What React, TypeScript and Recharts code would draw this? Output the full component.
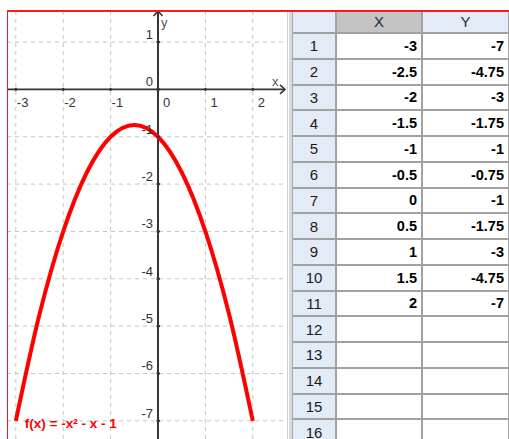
import React from 'react';
import { LineChart, Line, XAxis, YAxis, ReferenceLine, ReferenceDot } from 'recharts';

// Value table for f(x) = -x² - x - 1
const xValues = [-3, -2.5, -2, -1.5, -1, -0.5, 0, 0.5, 1, 1.5, 2];
const yValues = [-7, -4.75, -3, -1.75, -1, -0.75, -1, -1.75, -3, -4.75, -7];
const rowNumbers = [1, 2, 3, 4, 5, 6, 7, 8, 9, 10, 11, 12, 13, 14, 15, 16];
const columnHeaders = ['X', 'Y'];

// Axis ticks of the graphics view
const xTicks = [-3, -2, -1, 0, 1, 2];
const yTicks = [1, 0, -1, -2, -3, -4, -5, -6, -7];
const functionLabel = 'f(x) = -x² - x - 1';
const axisNames = { x: 'x', y: 'y' };

const points = xValues.map((x, i) => ({ x, y: yValues[i] }));

// Visible window of the graphics view
const X_DOMAIN: [number, number] = [-3.186, 2.743];
const Y_DOMAIN: [number, number] = [-7.384, 1.677];

const FONT = '"Liberation Sans", Arial, sans-serif';
const AXIS_COLOR = '#353535';
const GRID_COLOR = '#c4c4c4';
const CURVE_COLOR = '#ff0000';
const TICK_TEXT = '#333';

const XAxisShape = (p: any) => {
  const left = Math.min(p.x1, p.x2);
  const right = Math.max(p.x1, p.x2);
  const y = p.y1;
  const tip = right - 3;
  return (
    <g>
      <line x1={left} y1={y} x2={tip} y2={y} stroke={AXIS_COLOR} strokeWidth={1.6} />
      <polyline points={`${tip - 5},${y - 4.5} ${tip},${y} ${tip - 5},${y + 4.5}`} fill="none" stroke={AXIS_COLOR} strokeWidth={1.6} />
    </g>
  );
};

const YAxisShape = (p: any) => {
  const top = Math.min(p.y1, p.y2);
  const bottom = Math.max(p.y1, p.y2);
  const x = p.x1;
  const tip = top + 1;
  return (
    <g>
      <line x1={x} y1={tip} x2={x} y2={bottom} stroke={AXIS_COLOR} strokeWidth={2} />
      <polyline points={`${x - 4.5},${tip + 5} ${x},${tip} ${x + 4.5},${tip + 5}`} fill="none" stroke={AXIS_COLOR} strokeWidth={1.6} />
    </g>
  );
};

const xTickShape = (value: number) => (p: any) => (
  <g>
    <line x1={p.cx} y1={p.cy - 1.5} x2={p.cx} y2={p.cy + 1.5} stroke={AXIS_COLOR} strokeWidth={2} />
    <text x={p.cx + (value < 0 ? 1 : 5)} y={p.cy + 18} fontSize={13} fontFamily={FONT} fill={TICK_TEXT}>
      {String(value)}
    </text>
  </g>
);

const yTickShape = (value: number) => (p: any) => (
  <g>
    <line x1={p.cx - 1.5} y1={p.cy} x2={p.cx + 2} y2={p.cy} stroke={AXIS_COLOR} strokeWidth={2} />
    <text x={p.cx - 5} y={p.cy - 3} fontSize={13} fontFamily={FONT} fill={TICK_TEXT} textAnchor="end">
      {String(value)}
    </text>
  </g>
);

const functionLabelShape = (p: any) => (
  <text x={p.cx + 9} y={p.cy + 7} fontSize={13.5} fontWeight="bold" fontFamily={FONT} fill={CURVE_COLOR}>
    {functionLabel}
  </text>
);

const xNameShape = (p: any) => (
  <text x={p.cx - 16} y={p.cy - 3} fontSize={13} fontFamily={FONT} fill="#555">{axisNames.x}</text>
);
const yNameShape = (p: any) => (
  <text x={p.cx + 3} y={p.cy + 17} fontSize={13} fontFamily={FONT} fill="#555">{axisNames.y}</text>
);

const Graph = () => (
  <LineChart
    width={281}
    height={429}
    data={points}
    margin={{ top: 0, right: 0, bottom: 0, left: 0 }}
  >
    <XAxis type="number" dataKey="x" domain={X_DOMAIN} allowDataOverflow hide />
    <YAxis type="number" domain={Y_DOMAIN} allowDataOverflow hide width={0} />
    {xTicks.filter((t) => t !== 0).map((t) => (
      <ReferenceLine key={`gx${t}`} x={t} stroke={GRID_COLOR} strokeDasharray="4 4" strokeWidth={1} />
    ))}
    {yTicks.filter((t) => t !== 0).map((t) => (
      <ReferenceLine key={`gy${t}`} y={t} stroke={GRID_COLOR} strokeDasharray="4 4" strokeWidth={1} />
    ))}
    <ReferenceLine y={0} shape={XAxisShape} />
    <ReferenceLine x={0} shape={YAxisShape} />
    {xTicks.map((t) => (
      <ReferenceDot key={`tx${t}`} x={t} y={0} r={1} ifOverflow="visible" shape={xTickShape(t)} />
    ))}
    {yTicks.map((t) => (
      <ReferenceDot key={`ty${t}`} x={0} y={t} r={1} ifOverflow="visible" shape={yTickShape(t)} />
    ))}
    <ReferenceDot x={X_DOMAIN[1]} y={0} r={1} ifOverflow="visible" shape={xNameShape} />
    <ReferenceDot x={0} y={Y_DOMAIN[1]} r={1} ifOverflow="visible" shape={yNameShape} />
    <Line
      type="monotone"
      dataKey="y"
      stroke={CURVE_COLOR}
      strokeWidth={4}
      dot={false}
      activeDot={false}
      isAnimationActive={false}
    />
    <ReferenceDot x={xValues[0]} y={yValues[0]} r={1} ifOverflow="visible" shape={functionLabelShape} />
  </LineChart>
);

// Spreadsheet geometry
const HEADER_TOP = 11;
const ROW_TOP = 34;
const ROW_H = 25.75;
const COLS = [
  { left: 293, width: 44 },
  { left: 337, width: 86 },
  { left: 423, width: 87 },
];
const LINE = '2px solid #a2a2a2';
const HEAD_BLUE = '#e3ebf6';

const cellBase: React.CSSProperties = {
  position: 'absolute',
  boxSizing: 'border-box',
  borderRight: LINE,
  borderBottom: LINE,
  fontFamily: FONT,
  fontSize: 14.5,
  display: 'flex',
  alignItems: 'center',
  overflow: 'hidden',
};

const Spreadsheet = () => {
  const cells: React.ReactNode[] = [];
  // column header row
  cells.push(
    <div key="corner" style={{ ...cellBase, left: COLS[0].left, top: HEADER_TOP, width: COLS[0].width, height: ROW_TOP - HEADER_TOP, background: HEAD_BLUE }} />
  );
  columnHeaders.forEach((h, c) => {
    cells.push(
      <div
        key={`h${h}`}
        style={{
          ...cellBase,
          left: COLS[c + 1].left,
          top: HEADER_TOP,
          width: COLS[c + 1].width,
          height: ROW_TOP - HEADER_TOP,
          background: c === 0 ? '#c4c4c4' : HEAD_BLUE,
          justifyContent: 'center',
          color: '#1e2a3a',
          fontSize: 15,
        }}
      >
        {h}
      </div>
    );
  });
  rowNumbers.forEach((n, i) => {
    const top = ROW_TOP + i * ROW_H;
    cells.push(
      <div
        key={`r${n}`}
        style={{ ...cellBase, left: COLS[0].left, top, width: COLS[0].width, height: ROW_H, background: HEAD_BLUE, justifyContent: 'center', color: '#1a1a1a', fontSize: 15 }}
      >
        {n}
      </div>
    );
    const vals = [xValues[i], yValues[i]];
    vals.forEach((v, c) => {
      cells.push(
        <div
          key={`c${n}-${c}`}
          style={{
            ...cellBase,
            left: COLS[c + 1].left,
            top,
            width: COLS[c + 1].width,
            height: ROW_H,
            background: '#fff',
            justifyContent: 'flex-end',
            paddingRight: 4,
            fontWeight: 'bold',
            color: '#000',
          }}
        >
          {v === undefined ? '' : String(v)}
        </div>
      );
    });
  });
  return <>{cells}</>;
};

export default function App() {
  return (
    <div style={{ position: 'absolute', left: 0, top: 0, width: 509, height: 439, overflow: 'hidden', background: '#fff' }}>
      <div style={{ position: 'absolute', left: 7, top: 10, width: 281, height: 429 }}>
        <Graph />
      </div>
      {/* divider between graphics view and spreadsheet */}
      <div style={{ position: 'absolute', left: 287, top: 10, width: 1, height: 429, background: '#d2d2d2' }} />
      <div style={{ position: 'absolute', left: 289, top: 10, width: 4, height: 429, background: '#dadada', boxSizing: 'border-box', borderRight: '1px solid #a8a8a8' }} />
      <Spreadsheet />
      {/* red frame of the active view */}
      <div style={{ position: 'absolute', left: 7, top: 10, width: 502, height: 1.5, background: '#ff1a1a' }} />
      <div style={{ position: 'absolute', left: 7, top: 10, width: 1, height: 429, background: '#ff1a1a' }} />
    </div>
  );
}
